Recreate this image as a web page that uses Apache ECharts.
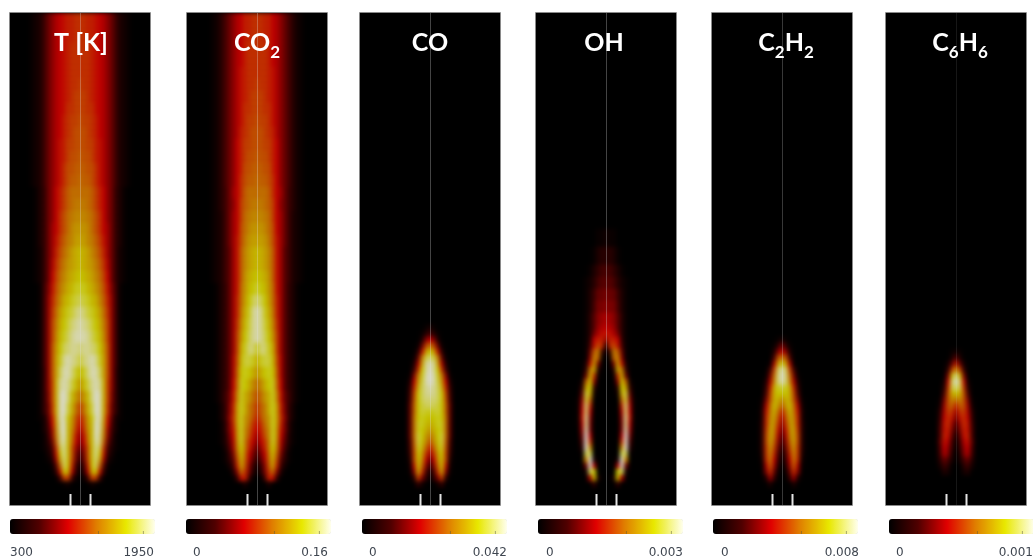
<!DOCTYPE html>
<html><head><meta charset="utf-8">
<style>html,body{margin:0;padding:0;background:#fff}#c{width:1033px;height:560px}
#c canvas[data-zr-dom-id="zr_1"]{filter:blur(2px)}</style>
<script src="https://cdn.jsdelivr.net/npm/echarts@6/dist/echarts.min.js"></script>
</head><body><div id="c"></div>
<script>
// Radial profiles: [rows, levels from axis outward, base 36, 0..35 of the colour scale]
const fieldT=[[3,"hhggfedb96321"],[2,"hhggfedb96321"],[2,"hhhgfedb96321"],[2,"hhhgfedb96321"],[2,"hhhgfedb96321"],[2,"ihhgfedb96321"],[2,"iihgfedb96321"],[2,"iihhfedb96321"],[2,"jiihgedb96321"],[2,"jjihgedb96321"],[2,"jjiigfdb96321"],[2,"kjjigfdb96321"],[2,"kkjjhfdb96321"],[2,"lkkjhfdb96321"],[2,"lllkigeb9531"],[2,"mmlkigeb9531"],[2,"nnmljheb9531"],[2,"oonljhec9531"],[2,"ppnmkifc9531"],[2,"rqpnljgc9521"],[2,"rqpomkhd9521"],[2,"srqpnlie9521"],
[2,"ttrqomjfa61"],[2,"vutrqnkgb61"],[2,"xwutrplhb61"],[2,"yxwusqmib61"],[2,"yyxvtrnib61"],[2,"wxxwvsojb61"],[2,"uwxyxtpjb61"],[2,"rtwyyvpjb51"],[2,"oruxyxqib51"],[2,"lorwzyqia51"],[2,"ilquzyqh951"],[1,"gjosyypf821"],[1,"fiorzxoe72"],[1,"dhnrzxnc62"],[1,"bfmrzwmb51"],[1,"aelrywk941"],[1,"8cjrxuh731"],[1,"6ajrxsf52"],[1,"49irwpc31"],[1,"26grvk81"],[1,"14dpsf4"],[1,"016ii6"],[1,"00021"],[3,""]];
const fieldCO2=[[3,"hhggedb97421"],[2,"hhggedb97421"],[2,"hhhgedb97421"],[2,"hhhgedb97421"],[2,"hhhgfdb97421"],[2,"ihhgfdb97421"],[2,"iihgfdb97421"],[2,"iihhfdb97421"],[2,"jiihfdb97421"],[2,"jjihgdb97421"],[2,"jjiigeb97421"],[2,"kjjigeb97421"],[2,"kkjjgeb97421"],[2,"lkkjheb97421"],[2,"lllkhec96421"],[2,"mmlkieb96421"],[2,"nnmliec96321"],[2,"oonljec96321"],[2,"ppomjfc96321"],[2,"rqpnkfc86321"],[2,"rqpnkfc86321"],[2,"srqokfc86321"],
[2,"usrolfc8531"],[2,"wvsplgc8531"],[2,"yxtqmgc8531"],[2,"yxurnhc8531"],[2,"yxvsoic8531"],[2,"twwtqic8531"],[2,"qtuurjd8531"],[2,"oqstskd8531"],[2,"lnqstle8531"],[2,"jloqtnf9631"],[2,"hkmqtpga52"],[1,"gjmotphb52"],[1,"fhlotpga41"],[1,"egkntofa41"],[1,"cfjntoe931"],[1,"aehmtnd831"],[1,"8cgmsmc72"],[1,"6aelrka51"],[1,"48dkqi841"],[1,"25bjpg62"],[1,"13ahlb3"],[1,"006gf5"],[1,"0003"],[3,""]];
const fieldCO=[[52,""],[1,"31"],[1,"741"],[1,"eb3"],[1,"mi91"],[1,"spf4"],[1,"wum91"],[1,"yxpd3"],[1,"zxsh6"],[1,"zytmb1"],[1,"zyuoe3"],[1,"yxvqg5"],[1,"xxvsi6"],[1,"wwvsj7"],[1,"vvusk8"],[1,"ttusk8"],[1,"rstsl8"],[1,"qrttl8"],[1,"oqstl8"],[1,"mosul8"],[1,"jnruk7"],[1,"gkqtj6"],[1,"chosi5"],[1,"8enri3"],[1,"4bkrf2"],[1,"27hpb1"],[1,"04ai4"],[1,"0025"],[3,""]];
const fieldOH=[[36,""],[3,"211"],[3,"4431"],[2,"77531"],[2,"887421"],[2,"a99631"],[2,"baa731"],[2,"dcb841"],[1,"edc841"],[1,"ffda41"],[1,"bgge51"],[1,"1gjf71"],[1,"06mk91"],[1,"01knb1"],[1,"00apf3"],[1,"004pm5"],[1,"001hq9"],[1,"000bsk2"],[1,"0005sp5"],[1,"0002pu8"],[1,"0000kub1"],[1,"0000gwd1"],[1,"0000dwe1"],[1,"0000bxf1"],[1,"0000axd1"],[1,"0000ayb"],[1,"0000dz9"],[1,"0000hz7"],[1,"0000nz4"],[1,"0000vv1"],[1,"0003zm"],[1,"000dz9"],[1,"000sv2"],[1,"003rc"],[1,"0005"],[3,""]];
const fieldC2H2=[[54,""],[1,"31"],[1,"a51"],[1,"fb3"],[1,"mj7"],[1,"tpd1"],[1,"yvi6"],[1,"zwla1"],[1,"ywnd3"],[1,"utqg5"],[1,"rsqi7"],[1,"nqqja1"],[1,"korld2"],[1,"glqmf3"],[1,"djpng3"],[1,"bhoog4"],[1,"9fnph4"],[1,"7dmpi4"],[1,"5bkpi4"],[1,"39ioh4"],[1,"27gnh3"],[1,"15emg2"],[1,"03ckd1"],[1,"019ha"],[1,"005c3"],[1,"0003"],[3,""]];
const fieldC6H6=[[56,""],[1,"21"],[1,"83"],[1,"g92"],[1,"oi5"],[1,"xra"],[1,"zvf2"],[1,"wuh4"],[1,"rqj7"],[1,"lnja1"],[1,"gkjc2"],[1,"chid4"],[1,"9fhe5"],[1,"6chf6"],[1,"4agf7"],[1,"28fg7"],[1,"16df8"],[1,"05be7"],[1,"03ad6"],[1,"02794"],[1,"00462"],[1,"0023"],[5,""]];

const fields=[fieldT,fieldCO2,fieldCO,fieldOH,fieldC2H2,fieldC6H6];
const names=["T [K]","CO{s|2}","CO","OH","C{s|2}H{s|2}","C{s|6}H{s|6}"];
const lowLabels=["300","0","0","0","0","0"];
const highLabels=["1950","0.16","0.042","0.003","0.008","0.001"];
const minValues=[300,0,0,0,0,0];
const maxValues=[1950,0.16,0.042,0.003,0.008,0.001];

// layout
const panelLeft=[10,187,360,536,712,886];
const titleX=[81,257,430,604,786,960];
const barLeft=[10,186,362,538,713,889];
const lowX=[10,193,369,546,721,896];
const highX=[154,328,507,683,859,1033];
const lineAlpha=[.3,.3,.3,.3,.25,.1];
const burnerOffset=[-10,10];
const barTicks=[.61,.92];
const COLS=35,ROWS=82,HALF=17;
const colours=['#000000','#500000','#e00000','#e08000','#e8e800','#ffffee'];

const chart=echarts.init(document.getElementById('c'),null,{renderer:'canvas'});
const grid=[],xAxis=[],yAxis=[],series=[],visualMap=[],title=[];
const graphic=[{type:'rect',zlevel:2,z:90,silent:true,shape:{x:0,y:0,width:1033,height:13},style:{fill:'#fff'}}];
const xCats=Array.from({length:COLS},(_,i)=>i),yCats=Array.from({length:ROWS},(_,i)=>i);
fields.forEach((f,p)=>{
  const data=[];let y=0;
  f.forEach(([n,s])=>{
    for(let k=0;k<n;k++,y++){
      for(let i=0;i<s.length;i++){
        const L=parseInt(s[i],36);if(!L)continue;
        const v=minValues[p]+L/35*(maxValues[p]-minValues[p]);
        data.push([HALF-i,y,v]);
        if(i)data.push([HALF+i,y,v]);
      }
    }
  });
  grid.push({left:panelLeft[p],top:13,width:140,height:492,show:true,backgroundColor:'#000',borderWidth:0});
  xAxis.push({type:'category',gridIndex:p,data:xCats,show:false});
  yAxis.push({type:'category',gridIndex:p,data:yCats,inverse:true,show:false});
  series.push({type:'heatmap',xAxisIndex:p,yAxisIndex:p,zlevel:1,data,progressive:0,animation:false,itemStyle:{opacity:.82},emphasis:{disabled:true},silent:true});
  visualMap.push({type:'continuous',seriesIndex:p,min:minValues[p],max:maxValues[p],orient:'horizontal',left:barLeft[p],top:519,itemWidth:15,itemHeight:145,calculable:false,realtime:false,text:null,showLabel:false,hoverLink:false,inRange:{color:colours},padding:0});
  title.push({text:names[p],left:titleX[p],top:21,padding:0,zlevel:2,z:100,textAlign:'center',textStyle:{color:'#fff',fontFamily:'Lato',fontSize:25,fontWeight:'bold',lineHeight:44,rich:{s:{color:'#fff',fontFamily:'Lato',fontSize:17,fontWeight:'bold',lineHeight:20,padding:[20,0,0,0]}}}});
  const cx=panelLeft[p]+70.5;
  graphic.push({type:'rect',zlevel:2,z:95,silent:true,shape:{x:panelLeft[p]-.5,y:12.5,width:141,height:493},style:{fill:'transparent',stroke:'#8a8a8a',lineWidth:1}});
  graphic.push({type:'line',zlevel:2,z:100,silent:true,shape:{x1:cx,y1:13,x2:cx,y2:505},style:{stroke:'rgba(225,225,225,'+lineAlpha[p]+')',lineWidth:1}});
  burnerOffset.forEach(o=>graphic.push({type:'line',zlevel:2,z:100,silent:true,shape:{x1:cx+o,y1:494,x2:cx+o,y2:506},style:{stroke:'#e4e4e4',lineWidth:2}}));
  barTicks.forEach(t=>graphic.push({type:'line',zlevel:2,z:100,silent:true,shape:{x1:barLeft[p]+145*t,y1:531,x2:barLeft[p]+145*t,y2:534},style:{stroke:'rgba(90,90,60,.5)',lineWidth:1}}));
  graphic.push({type:'text',zlevel:2,z:100,silent:true,style:{x:lowX[p],y:553,text:lowLabels[p],fill:'#3f4650',font:'12px "DejaVu Sans"',textAlign:'left',textVerticalAlign:'middle'}});
  graphic.push({type:'text',zlevel:2,z:100,silent:true,style:{x:highX[p],y:553,text:highLabels[p],fill:'#3f4650',font:'12px "DejaVu Sans"',textAlign:'right',textVerticalAlign:'middle'}});
});
chart.setOption({animation:false,backgroundColor:'#fff',grid,xAxis,yAxis,series,visualMap,title,graphic});
</script></body></html>
